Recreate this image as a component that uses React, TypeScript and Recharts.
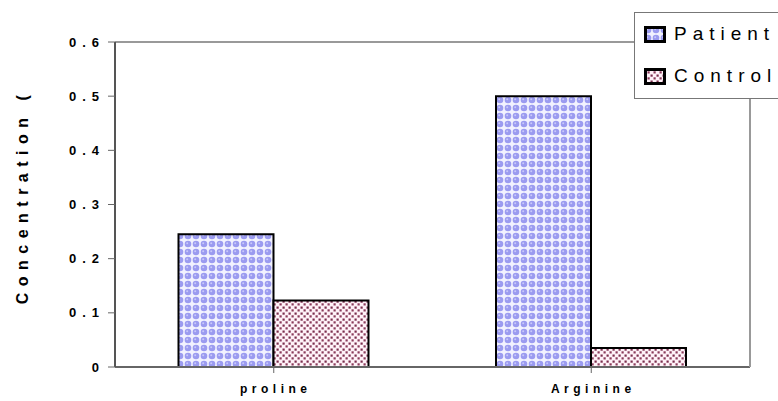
import { BarChart, Bar, XAxis, YAxis } from "recharts";

const categories = ["proline", "Arginine"];
const patientValues = [0.245, 0.5];
const controlValues = [0.123, 0.035];
const yTicks = [0, 0.1, 0.2, 0.3, 0.4, 0.5, 0.6];

const data = categories.map((name, i) => ({
  name,
  Patient: patientValues[i],
  Control: controlValues[i],
}));

const FONT = "Liberation Sans, Arial, sans-serif";

const YTick = ({ x, y, payload }: any) => (
  <text
    x={x - 1}
    y={y}
    textAnchor="end"
    dominantBaseline="central"
    fontFamily={FONT}
    fontSize={13}
    fontWeight="bold"
    letterSpacing={6}
    fill="#000"
  >
    {payload.value === 0 ? "0" : payload.value.toFixed(1)}
  </text>
);

const XTick = ({ x, y, payload }: any) => (
  <text
    x={x + 2}
    y={y + 18}
    textAnchor="middle"
    fontFamily={FONT}
    fontSize={12}
    fontWeight="bold"
    letterSpacing={4.5}
    fill="#000"
  >
    {payload.value}
  </text>
);

const legendItems = [
  { label: "Patient", fill: "url(#patientFill)" },
  { label: "Control", fill: "url(#controlFill)" },
];

const LegendBox = () => (
  <div
    style={{
      position: "absolute",
      left: 634,
      top: 12,
      background: "#fff",
      border: "1px solid #777",
      width: 170,
      height: 87,
      boxSizing: "border-box",
      fontFamily: FONT,
      fontSize: 19,
      letterSpacing: 6,
      color: "#000",
      lineHeight: "20px",
    }}
  >
    {legendItems.map((e, i) => (
      <div
        key={e.label}
        style={{ display: "flex", alignItems: "center", height: 22, marginTop: i === 0 ? 10 : 20, paddingLeft: 9 }}
      >
        <svg width={22} height={17} style={{ marginRight: 8 }}>
          <rect x={1.5} y={1.5} width={19} height={14} fill={e.fill} stroke="#000" strokeWidth={3} />
        </svg>
        <span>{e.label}</span>
      </div>
    ))}
  </div>
);

export default function App() {
  return (
    <div style={{ position: "absolute", left: 0, top: 0, width: 778, height: 401, background: "#fff", overflow: "hidden" }}>
      <svg width={0} height={0} style={{ position: "absolute" }}>
        <defs>
          <pattern id="patientFill" width={8} height={8} patternUnits="userSpaceOnUse">
            <rect width={8} height={8} fill="#f2f2ff" />
            <circle cx={4} cy={4} r={3.3} fill="#9b9bf0" />
            <circle cx={3.2} cy={3.2} r={1} fill="#c8c8fa" />
          </pattern>
          <pattern id="controlFill" width={6} height={6} patternUnits="userSpaceOnUse">
            <rect width={6} height={6} fill="#fff2f8" />
            <rect x={0.5} y={0.5} width={2.2} height={2.2} fill="#7a2c4c" />
            <rect x={3.5} y={3.3} width={2.2} height={2.2} fill="#8a3a5a" />
          </pattern>
        </defs>
      </svg>
      <BarChart
        width={778}
        height={401}
        data={data}
        margin={{ top: 41, right: 27, bottom: 0, left: 55 }}
        barCategoryGap="20%"
        barGap={0}
      >
        <XAxis
          dataKey="name"
          axisLine={{ stroke: "#666", strokeWidth: 2 }}
          tickLine={{ stroke: "#666" }}
          tickSize={6}
          tick={<XTick />}
          interval={0}
          height={34}
        />
        <XAxis
          xAxisId="top"
          orientation="top"
          dataKey="name"
          axisLine={{ stroke: "#999", strokeWidth: 2 }}
          tick={false}
          tickLine={false}
          height={1}
        />
        <YAxis
          domain={[0, 0.6]}
          ticks={yTicks}
          axisLine={{ stroke: "#555", strokeWidth: 2 }}
          tickLine={{ stroke: "#666" }}
          tickSize={7}
          tick={<YTick />}
          width={60}
          label={{
            value: "Concentration (",
            angle: -90,
            position: "insideLeft",
            offset: -33,
            dy: -8,
            style: {
              textAnchor: "middle",
              fontFamily: FONT,
              fontSize: 16,
              fontWeight: "bold",
              letterSpacing: 6.5,
              fill: "#000",
            },
          }}
        />
        <YAxis
          yAxisId="right"
          orientation="right"
          axisLine={{ stroke: "#999", strokeWidth: 2 }}
          tick={false}
          tickLine={false}
          width={1}
        />
        <Bar dataKey="Patient" fill="url(#patientFill)" stroke="#000" strokeWidth={2} isAnimationActive={false} />
        <Bar dataKey="Control" fill="url(#controlFill)" stroke="#000" strokeWidth={2} isAnimationActive={false} />
      </BarChart>
      <LegendBox />
    </div>
  );
}
